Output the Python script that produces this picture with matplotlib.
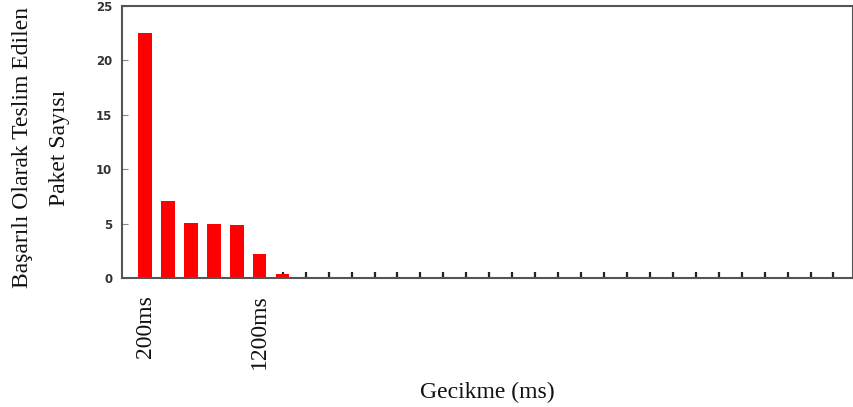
import matplotlib
matplotlib.use("Agg")
import matplotlib.pyplot as plt

# Data
delay_ms = [200, 400, 600, 800, 1000, 1200, 1400, 1600, 1800, 2000,
            2200, 2400, 2600, 2800, 3000, 3200, 3400, 3600, 3800, 4000,
            4200, 4400, 4600, 4800, 5000, 5200, 5400, 5600, 5800, 6000, 6200]
packet_counts = [22.5, 7.1, 5.05, 5.0, 4.85, 2.2, 0.35, 0, 0, 0,
                 0, 0, 0, 0, 0, 0, 0, 0, 0, 0,
                 0, 0, 0, 0, 0, 0, 0, 0, 0, 0, 0]
labeled_delays = {200: "200ms", 1200: "1200ms"}
y_ticks = [0, 5, 10, 15, 20, 25]

fig = plt.figure(figsize=(8.54, 4.07), dpi=100)
ax = fig.add_axes([0.143, 0.317, 0.8558, 0.668])

pos = list(range(len(delay_ms)))
ax.bar(pos, packet_counts, width=0.58, color="#ff0000", zorder=2)

ax.set_xlim(-1.0, 30.85)
ax.set_ylim(0, 25)
ax.set_yticks(y_ticks)
ax.set_yticklabels([str(v) for v in y_ticks], fontfamily="DejaVu Sans",
                   fontweight="bold", fontsize=8.5, color="#333333")
ax.set_xticks(pos)
ax.set_xticklabels([labeled_delays.get(d, "") for d in delay_ms], rotation=90,
                   fontfamily="Liberation Serif", fontsize=17, color="#111111")

ax.tick_params(axis="x", direction="in", length=4, width=1.6, color="#222222", pad=12)
ax.tick_params(axis="y", direction="in", length=4, width=0.8, color="#888888", pad=7)

for s in ax.spines.values():
    s.set_color("#555555")
    s.set_linewidth(1.5)

ax.set_xlabel("Gecikme (ms)", fontfamily="Liberation Serif", fontsize=17,
              color="#111111", labelpad=9)
fig.text(41 / 854, 1 - 148 / 407, "Başarılı Olarak Teslim Edilen\nPaket Sayısı",
         fontfamily="Liberation Serif", fontsize=17, color="#111111",
         rotation=90, ha="center", va="center", multialignment="center",
         linespacing=1.95)

fig.savefig("out.png", dpi=100)
